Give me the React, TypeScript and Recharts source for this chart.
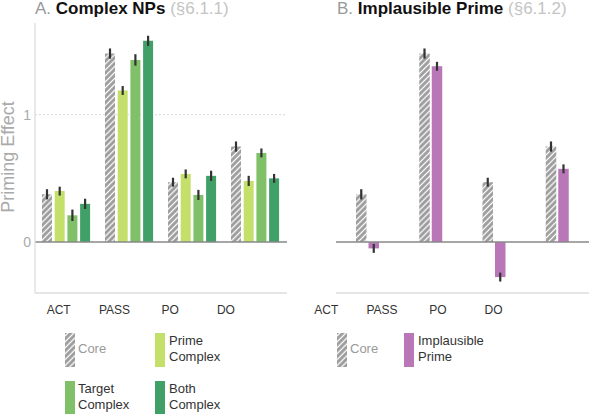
import React from 'react';
import { BarChart, Bar, XAxis, YAxis, CartesianGrid, ReferenceLine, ErrorBar } from 'recharts';

// ---- data ----
const categories = ['ACT', 'PASS', 'PO', 'DO'];
const coreValues = [0.375, 1.48, 0.47, 0.75];
const coreErrors = [0.04, 0.04, 0.035, 0.04];
const primeComplexValues = [0.4, 1.19, 0.535, 0.48];
const primeComplexErrors = [0.035, 0.035, 0.035, 0.04];
const targetComplexValues = [0.21, 1.43, 0.37, 0.7];
const targetComplexErrors = [0.045, 0.045, 0.04, 0.035];
const bothComplexValues = [0.3, 1.58, 0.52, 0.5];
const bothComplexErrors = [0.04, 0.04, 0.04, 0.035];
const implausibleValues = [-0.05, 1.38, -0.275, 0.575];
const implausibleErrors = [0.035, 0.035, 0.035, 0.035];
const yTicks = [0, 1];
const labelTicks = [0, 1, 2, 3];

// ---- config ----
const yDomain: [number, number] = [-0.4, 1.72];
const labelDomainA: [number, number] = [-0.425, 4.095];
const labelDomainB: [number, number] = [0.174, 4.712];

const COLORS = {
  core: '#9b9b9b',
  prime: '#c4e06a',
  target: '#80c068',
  both: '#40a068',
  implausible: '#b977b8',
};

const FONT = '"Liberation Sans", Arial, Helvetica, sans-serif';

const dataA = categories.map((cat, i) => ({
  cat,
  idx: i,
  core: coreValues[i],
  coreErr: coreErrors[i],
  prime: primeComplexValues[i],
  primeErr: primeComplexErrors[i],
  target: targetComplexValues[i],
  targetErr: targetComplexErrors[i],
  both: bothComplexValues[i],
  bothErr: bothComplexErrors[i],
}));

const dataB = categories.map((cat, i) => ({
  cat,
  idx: i,
  core: coreValues[i],
  coreErr: coreErrors[i],
  impl: implausibleValues[i],
  implErr: implausibleErrors[i],
}));

const HatchDef = ({ id }: { id: string }) => (
  <defs>
    <pattern id={id} patternUnits="userSpaceOnUse" width="4.2" height="4.2" patternTransform="rotate(45)">
      <rect x="0" y="0" width="4.2" height="4.2" fill={COLORS.core} />
      <line x1="2.1" y1="0" x2="2.1" y2="4.2" stroke="#ffffff" strokeWidth="1.3" />
    </pattern>
  </defs>
);

const errProps = {
  width: 0,
  strokeWidth: 2.2,
  stroke: '#333333',
  direction: 'y' as const,
  isAnimationActive: false,
};

const Swatch = ({ color, hatch, left, top }: { color?: string; hatch?: boolean; left: number; top: number }) => (
  <svg style={{ position: 'absolute', left, top }} width={10} height={34}>
    {hatch ? (
      <>
        <defs>
          <pattern id={`lh${left}${top}`} patternUnits="userSpaceOnUse" width="4.2" height="4.2" patternTransform="rotate(45)">
            <rect x="0" y="0" width="4.2" height="4.2" fill={COLORS.core} />
            <line x1="2.1" y1="0" x2="2.1" y2="4.2" stroke="#ffffff" strokeWidth="1.3" />
          </pattern>
        </defs>
        <rect x="0" y="0" width="10" height="34" fill={`url(#lh${left}${top})`} />
      </>
    ) : (
      <rect x="0" y="0" width="10" height="34" fill={color} />
    )}
  </svg>
);

const LegendText = ({ lines, left, top, color }: { lines: string[]; left: number; top: number; color: string }) => (
  <div
    style={{
      position: 'absolute',
      left,
      top,
      fontSize: 13,
      lineHeight: '16px',
      color,
      fontFamily: FONT,
      whiteSpace: 'nowrap',
    }}
  >
    {lines.map((l) => (
      <div key={l}>{l}</div>
    ))}
  </div>
);

const Title = ({ letter, name, sec, left }: { letter: string; name: string; sec: string; left: number }) => (
  <div
    style={{
      position: 'absolute',
      left,
      top: -1,
      fontSize: 17,
      lineHeight: '20px',
      fontFamily: FONT,
      whiteSpace: 'nowrap',
    }}
  >
    <span style={{ color: '#999999' }}>{letter} </span>
    <span style={{ color: '#111111', fontWeight: 'bold' }}>{name}</span>
    <span style={{ color: '#c4c4c4' }}> {sec}</span>
  </div>
);

const labelAxisProps = {
  xAxisId: 'lab',
  dataKey: 'idx',
  type: 'number' as const,
  allowDataOverflow: true,
  ticks: labelTicks,
  tickFormatter: (v: number) => categories[v],
  height: 30,
  axisLine: { stroke: '#dddddd', strokeWidth: 1.3 },
  tickLine: false,
  tickSize: 0,
  tickMargin: 12,
  tick: { fill: '#333333', fontSize: 12 },
  interval: 0 as const,
};

const catAxisProps = {
  xAxisId: 'cat',
  dataKey: 'cat',
  type: 'category' as const,
  height: 0,
  tick: false,
  tickLine: false,
  axisLine: false,
};

export default function App() {
  return (
    <div
      style={{
        position: 'absolute',
        left: 0,
        top: 0,
        width: 590,
        height: 414,
        background: '#ffffff',
        fontFamily: FONT,
        overflow: 'hidden',
      }}
    >
      <Title letter="A." name="Complex NPs" sec="(§6.1.1)" left={35} />
      <Title letter="B." name="Implausible Prime" sec="(§6.1.2)" left={337} />

      <div
        style={{
          position: 'absolute',
          left: 8 - 70,
          top: 157 - 8,
          width: 140,
          height: 16,
          lineHeight: '16px',
          fontSize: 18,
          textAlign: 'center',
          color: '#aaaaaa',
          transform: 'rotate(-90deg)',
          transformOrigin: 'center',
          whiteSpace: 'nowrap',
        }}
      >
        Priming Effect
      </div>

      {/* Panel A */}
      <div style={{ position: 'absolute', left: 0, top: 0 }}>
        <BarChart
          width={300}
          height={330}
          data={dataA}
          margin={{ top: 23, right: 13, left: 5, bottom: 7 }}
          barSize={10}
          barGap={2.7}
        >
          <HatchDef id="hatchA" />
          <CartesianGrid
            xAxisId="cat"
            vertical={false}
            stroke="#c8c8c8"
            strokeDasharray="2 2"
            strokeWidth={0.8}
            horizontalValues={[1]}
          />
          <XAxis {...catAxisProps} />
          <XAxis {...labelAxisProps} domain={labelDomainA} />
          <YAxis
            domain={yDomain}
            ticks={yTicks}
            allowDataOverflow
            width={30}
            axisLine={{ stroke: '#dddddd', strokeWidth: 1.3 }}
            tickLine={false}
            tickSize={0}
            tickMargin={4}
            tick={{ fill: '#aaaaaa', fontSize: 14 }}
          />
          <ReferenceLine y={0} xAxisId="cat" stroke="#888888" strokeWidth={1.6} />
          <Bar xAxisId="cat" dataKey="core" fill="url(#hatchA)" isAnimationActive={false}>
            <ErrorBar dataKey="coreErr" {...errProps} />
          </Bar>
          <Bar xAxisId="cat" dataKey="prime" fill={COLORS.prime} isAnimationActive={false}>
            <ErrorBar dataKey="primeErr" {...errProps} />
          </Bar>
          <Bar xAxisId="cat" dataKey="target" fill={COLORS.target} isAnimationActive={false}>
            <ErrorBar dataKey="targetErr" {...errProps} />
          </Bar>
          <Bar xAxisId="cat" dataKey="both" fill={COLORS.both} isAnimationActive={false}>
            <ErrorBar dataKey="bothErr" {...errProps} />
          </Bar>
        </BarChart>
      </div>

      {/* Panel B */}
      <div style={{ position: 'absolute', left: 300, top: 0 }}>
        <BarChart
          width={290}
          height={330}
          data={dataB}
          margin={{ top: 23, right: 1, left: 36, bottom: 7 }}
          barSize={10.5}
          barGap={2}
        >
          <HatchDef id="hatchB" />
          <CartesianGrid
            xAxisId="cat"
            vertical={false}
            stroke="#c8c8c8"
            strokeDasharray="2 2"
            strokeWidth={0.8}
            horizontalValues={[1]}
          />
          <XAxis {...catAxisProps} />
          <XAxis {...labelAxisProps} domain={labelDomainB} />
          <YAxis
            domain={yDomain}
            ticks={yTicks}
            allowDataOverflow
            width={0}
            axisLine={{ stroke: '#dddddd', strokeWidth: 1.3 }}
            tickLine={false}
            tick={false}
          />
          <ReferenceLine y={0} xAxisId="cat" stroke="#888888" strokeWidth={1.6} />
          <Bar xAxisId="cat" dataKey="core" fill="url(#hatchB)" isAnimationActive={false}>
            <ErrorBar dataKey="coreErr" {...errProps} />
          </Bar>
          <Bar xAxisId="cat" dataKey="impl" fill={COLORS.implausible} isAnimationActive={false}>
            <ErrorBar dataKey="implErr" {...errProps} />
          </Bar>
        </BarChart>
      </div>

      {/* Legend A */}
      <Swatch hatch left={65} top={333} />
      <LegendText lines={['Core']} left={78} top={341} color="#999999" />
      <Swatch color={COLORS.prime} left={155} top={333} />
      <LegendText lines={['Prime', 'Complex']} left={169} top={333} color="#333333" />
      <Swatch color={COLORS.target} left={65} top={381} />
      <LegendText lines={['Target', 'Complex']} left={78} top={381} color="#333333" />
      <Swatch color={COLORS.both} left={155} top={381} />
      <LegendText lines={['Both', 'Complex']} left={169} top={381} color="#333333" />

      {/* Legend B */}
      <Swatch hatch left={337} top={333} />
      <LegendText lines={['Core']} left={350} top={341} color="#999999" />
      <Swatch color={COLORS.implausible} left={404} top={333} />
      <LegendText lines={['Implausible', 'Prime']} left={418} top={333} color="#333333" />
    </div>
  );
}
